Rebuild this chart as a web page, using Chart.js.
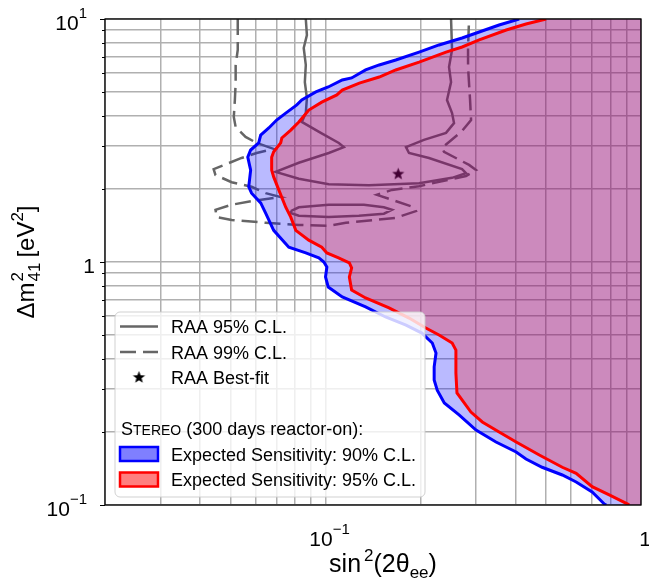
<!DOCTYPE html>
<html>
<head>
<meta charset="utf-8">
<title>STEREO expected sensitivity vs RAA</title>
<script src="https://cdn.jsdelivr.net/npm/chart.js@4.4.1/dist/chart.umd.min.js"></script>
<style>
  html, body { margin: 0; padding: 0; background: #fff; }
  #wrap { width: 649px; height: 580px; }
</style>
</head>
<body>
<div id="wrap"><canvas id="chart" width="649" height="580"></canvas></div>
<script>
// sin^2(2theta_ee) on x, dm^2_41 on y, both log
const X_MIN = 0.02, X_MAX = 1;
const Y_MIN = 0.1, Y_MAX = 10;

const xGridLines = [0.02, 0.03, 0.04, 0.05, 0.06, 0.07, 0.08, 0.09, 0.1, 0.2, 0.3, 0.4, 0.5, 0.6, 0.7, 0.8, 0.9, 1];
const yGridLines = [0.1, 0.2, 0.3, 0.4, 0.5, 0.6, 0.7, 0.8, 0.9, 1, 2, 3, 4, 5, 6, 7, 8, 9, 10];
// [value, base, superscript]
const xTickLabels = [[0.1, '10', '\u22121'], [1, '1', '']];
const yTickLabels = [[10, '10', '1'], [1, '1', ''], [0.1, '10', '\u22121']];

// STEREO expected sensitivity 90% C.L., [sin2, dm2], top edge -> bottom edge
const sens90 = [
  [0.411, 10], [0.355, 9.45], [0.307, 8.84], [0.271, 8.35], [0.229, 7.82], [0.198, 7.31],
  [0.167, 6.78], [0.148, 6.47], [0.134, 6.17], [0.121, 5.72], [0.113, 5.61], [0.102, 5.25],
  [0.0932, 5.01], [0.0841, 4.64], [0.0811, 4.43], [0.0748, 4.10], [0.0700, 3.84], [0.0661, 3.56],
  [0.0623, 3.33], [0.0614, 3.09], [0.0579, 2.89], [0.0567, 2.70], [0.0579, 2.39], [0.0571, 2.04],
  [0.0583, 1.92], [0.0623, 1.75], [0.0646, 1.59], [0.0685, 1.35], [0.0765, 1.15], [0.0866, 1.09],
  [0.0952, 1.04], [0.0988, 1.00], [0.101, 0.953], [0.100, 0.868], [0.102, 0.789], [0.113, 0.718],
  [0.134, 0.653], [0.155, 0.594], [0.180, 0.550], [0.202, 0.510], [0.218, 0.464], [0.224, 0.422],
  [0.221, 0.370], [0.221, 0.327], [0.226, 0.297], [0.238, 0.263], [0.265, 0.235], [0.300, 0.2035],
  [0.347, 0.1817], [0.402, 0.1652], [0.432, 0.1546], [0.486, 0.143], [0.563, 0.1329], [0.623, 0.1244],
  [0.700, 0.1131], [0.765, 0.101], [0.776, 0.1]
];

// STEREO expected sensitivity 95% C.L.
const sens95 = [
  [0.5005, 10], [0.432, 9.54], [0.374, 9.01], [0.307, 8.20], [0.271, 7.67], [0.241, 7.31],
  [0.198, 6.65], [0.167, 6.17], [0.148, 5.77], [0.128, 5.45], [0.113, 5.10], [0.1086, 4.87],
  [0.0973, 4.55], [0.0885, 4.22], [0.0823, 3.77], [0.0776, 3.49], [0.0727, 3.24], [0.0721, 3.09],
  [0.0685, 2.84], [0.0675, 2.70], [0.0675, 2.39], [0.0685, 2.24], [0.0711, 1.98], [0.0748, 1.68],
  [0.0776, 1.53], [0.0805, 1.35], [0.0885, 1.23], [0.0973, 1.15], [0.101, 1.09], [0.110, 1.04],
  [0.119, 0.991], [0.121, 0.945], [0.119, 0.868], [0.121, 0.767], [0.134, 0.711], [0.159, 0.647],
  [0.184, 0.588], [0.208, 0.535], [0.229, 0.501], [0.252, 0.464], [0.259, 0.434], [0.259, 0.349],
  [0.261, 0.289], [0.289, 0.2413], [0.314, 0.2196], [0.355, 0.1997], [0.402, 0.1817], [0.476, 0.1606],
  [0.563, 0.143], [0.623, 0.135], [0.700, 0.119], [0.793, 0.110], [0.905, 0.101], [0.918, 0.1]
];

// RAA allowed region, 95% C.L. (solid)
const raa95 = [
  [0.0866, 10], [0.0873, 8.59], [0.0853, 7.60], [0.0866, 6.47], [0.0860, 5.50], [0.0873, 4.73],
  [0.0866, 4.10], [0.0841, 3.77], [0.0966, 3.40], [0.1102, 3.09], [0.1143, 2.97], [0.1024, 2.81],
  [0.0823, 2.56], [0.0695, 2.35], [0.0823, 2.20], [0.1024, 2.09], [0.1372, 2.07], [0.1978, 2.11],
  [0.2518, 2.22], [0.2789, 2.32], [0.2709, 2.41], [0.2128, 2.68], [0.1839, 2.81], [0.1799, 2.97],
  [0.2051, 3.18], [0.2410, 3.40], [0.2555, 3.73], [0.2518, 4.10], [0.2427, 4.64], [0.2500, 5.50],
  [0.2463, 6.35], [0.2518, 7.46], [0.2500, 10]
];
const raa95Island = [
  [0.0776, 1.62], [0.0823, 1.68], [0.1024, 1.72], [0.1323, 1.72], [0.1531, 1.68], [0.1624, 1.64],
  [0.1531, 1.58], [0.1276, 1.55], [0.1024, 1.53], [0.0823, 1.55], [0.0776, 1.59], [0.0776, 1.62]
];

// RAA allowed region, 99% C.L. (dashed)
const raa99 = [
  [0.0527, 10], [0.0527, 8.59], [0.0527, 7.46], [0.0519, 6.47], [0.0519, 5.45], [0.0516, 4.64],
  [0.0512, 3.95], [0.0519, 3.59], [0.0558, 3.27], [0.0605, 3.09], [0.0685, 2.92], [0.0605, 2.81],
  [0.0542, 2.68], [0.0442, 2.41], [0.0448, 2.28], [0.0504, 2.13], [0.0583, 2.04], [0.0646, 1.92],
  [0.0721, 1.85], [0.0583, 1.78], [0.0504, 1.72], [0.0448, 1.64], [0.0452, 1.53], [0.0504, 1.49],
  [0.0646, 1.45], [0.0823, 1.42], [0.1024, 1.41], [0.1160, 1.45], [0.1672, 1.52], [0.1935, 1.62],
  [0.1907, 1.68], [0.1589, 1.82], [0.1455, 1.89], [0.1624, 1.98], [0.1978, 2.05], [0.2789, 2.26],
  [0.3001, 2.39], [0.2851, 2.51], [0.2375, 2.84], [0.2340, 2.95], [0.2709, 3.46], [0.2893, 3.84],
  [0.2872, 4.64], [0.2830, 6.35], [0.2830, 7.60], [0.2851, 10]
];

const raaBest = [[0.17, 2.3]];

const FONT = '"Liberation Sans", Arial, Helvetica, sans-serif';
const GRID = '#b0b0b0';
const GREY = '#666666';
const DASH = [16, 7];
const BLUE_FILL = 'rgba(0,0,255,0.27)';
const RED_FILL = 'rgba(255,0,0,0.26)';

const pts = a => a.map(([x, y]) => ({x, y}));
// region right of a sensitivity curve, closed along the right edge of the plot
const rightOf = a => pts(a).concat([{x: X_MAX, y: Y_MIN}, {x: X_MAX, y: Y_MAX}]);

function makeStar(r, color) {
  const c = document.createElement('canvas');
  c.width = c.height = Math.ceil(r * 2 + 2);
  const g = c.getContext('2d');
  const cx = c.width / 2, cy = c.height / 2;
  g.beginPath();
  for (let i = 0; i < 10; i++) {
    const rr = i % 2 ? r * 0.42 : r;
    const a = -Math.PI / 2 + i * Math.PI / 5;
    g.lineTo(cx + rr * Math.cos(a), cy + rr * Math.sin(a));
  }
  g.closePath();
  g.fillStyle = color;
  g.fill();
  return c;
}
const starImg = makeStar(6.5, '#000');

function font(px) { return px + 'px ' + FONT; }

// text made of runs with sup/subscripts
function drawRuns(ctx, runs, x, y, align) {
  let pos = 0, prevStart = 0, prevW = 0;
  const items = [];
  runs.forEach(r => {
    ctx.font = font(r.size);
    const w = ctx.measureText(r.text).width;
    if (r.stack) {
      items.push({r, x: prevStart});
      prevW = Math.max(prevW, w);
      pos = prevStart + prevW;
    } else {
      items.push({r, x: pos});
      prevStart = pos; prevW = w;
      pos += w;
    }
    pos += r.gap || 0;
  });
  const start = align === 'center' ? x - pos / 2 : align === 'right' ? x - pos : x;
  ctx.textBaseline = 'alphabetic';
  ctx.textAlign = 'left';
  items.forEach(it => {
    ctx.font = font(it.r.size);
    ctx.fillText(it.r.text, start + it.x, y + (it.r.dy || 0));
  });
}

const decorations = {
  id: 'decorations',
  afterDraw(chart) {
    const ctx = chart.ctx;
    const a = chart.chartArea;
    const xs = chart.scales.x, ys = chart.scales.y;
    ctx.save();

    // frame and left ticks
    ctx.strokeStyle = '#000';
    ctx.lineWidth = 1.3;
    ctx.strokeRect(a.left, a.top, a.right - a.left, a.bottom - a.top);
    ctx.lineWidth = 1;
    yGridLines.forEach(v => {
      const py = Math.round(ys.getPixelForValue(v)) + 0.5;
      const major = [0.1, 1, 10].includes(v);
      ctx.beginPath();
      ctx.moveTo(a.left - (major ? 5 : 3), py);
      ctx.lineTo(a.left, py);
      ctx.stroke();
    });

    // tick labels
    ctx.fillStyle = '#000';
    yTickLabels.forEach(([v, base, sup]) => {
      const py = ys.getPixelForValue(v);
      const runs = [{text: base, size: 21}];
      if (sup) runs.push({text: sup, size: 15, dy: -12});
      drawRuns(ctx, runs, a.left - (sup ? 18 : 10), py + 11, 'right');
    });
    xTickLabels.forEach(([v, base, sup]) => {
      const px = xs.getPixelForValue(v);
      const runs = [{text: base, size: 21}];
      if (sup) runs.push({text: sup, size: 15, dy: -12});
      drawRuns(ctx, runs, px + 4, 546, 'center');
    });

    // axis titles
    drawRuns(ctx, [
      {text: 'sin', size: 25, gap: 3},
      {text: '2', size: 17, dy: -11},
      {text: '(2\u03b8', size: 25},
      {text: 'ee', size: 17, dy: 6},
      {text: ')', size: 25}
    ], 383, 572, 'center');
    ctx.save();
    ctx.translate(34, (a.top + a.bottom) / 2);
    ctx.rotate(-Math.PI / 2);
    drawRuns(ctx, [
      {text: '\u0394m', size: 24, gap: 1},
      {text: '2', size: 17, dy: -11},
      {text: '41', size: 17, dy: 6, stack: true, gap: 5},
      {text: '[eV', size: 24},
      {text: '2', size: 17, dy: -11},
      {text: ']', size: 24}
    ], 0, 0, 'center');
    ctx.restore();

    // legend
    const L = {x: 115, y: 312, w: 310, h: 185};
    ctx.beginPath();
    ctx.roundRect(L.x, L.y, L.w, L.h, 5);
    ctx.fillStyle = 'rgba(255,255,255,0.8)';
    ctx.fill();
    ctx.strokeStyle = 'rgba(204,204,204,0.9)';
    ctx.lineWidth = 1;
    ctx.stroke();

    const hx0 = 120, hx1 = 158, tx = 171;
    ctx.strokeStyle = GREY;
    ctx.lineWidth = 2.5;
    ctx.beginPath(); ctx.moveTo(hx0, 326.5); ctx.lineTo(hx1, 326.5); ctx.stroke();
    ctx.setLineDash(DASH);
    ctx.beginPath(); ctx.moveTo(hx0, 352); ctx.lineTo(hx1, 352); ctx.stroke();
    ctx.setLineDash([]);
    ctx.drawImage(starImg, 139 - starImg.width / 2, 377.5 - starImg.height / 2);

    [[447, BLUE_FILL, '#0000ff'], [472.5, RED_FILL, '#ff0000']].forEach(([top, fill, edge]) => {
      ctx.fillStyle = '#fff';
      ctx.fillRect(hx0, top, hx1 - hx0, 14);
      ctx.fillStyle = fill.replace(/0\.2\d+\)/, '0.5)');
      ctx.fillRect(hx0, top, hx1 - hx0, 14);
      ctx.strokeStyle = edge;
      ctx.lineWidth = 2.5;
      ctx.strokeRect(hx0, top, hx1 - hx0, 14);
    });

    ctx.fillStyle = '#000';
    drawRuns(ctx, [{text: 'RAA 95% C.L.', size: 18}], tx, 333, 'left');
    drawRuns(ctx, [{text: 'RAA 99% C.L.', size: 18}], tx, 358.5, 'left');
    drawRuns(ctx, [{text: 'RAA Best-fit', size: 18}], tx, 384, 'left');
    drawRuns(ctx, [
      {text: 'S', size: 18},
      {text: 'TEREO', size: 14},
      {text: ' (300 days reactor-on):', size: 18}
    ], 121, 435, 'left');
    drawRuns(ctx, [{text: 'Expected Sensitivity: 90% C.L.', size: 18}], tx, 460.5, 'left');
    drawRuns(ctx, [{text: 'Expected Sensitivity: 95% C.L.', size: 18}], tx, 486, 'left');

    ctx.restore();
  }
};

const lineBase = {showLine: true, pointRadius: 0, pointHoverRadius: 0, tension: 0, clip: 0, fill: false};

new Chart(document.getElementById('chart'), {
  type: 'line',
  data: {
    datasets: [
      {...lineBase, label: 'Expected Sensitivity: 90% C.L.', data: pts(sens90), borderColor: '#0000ff', borderWidth: 3, order: 0},
      {...lineBase, label: 'Expected Sensitivity: 95% C.L.', data: pts(sens95), borderColor: '#ff0000', borderWidth: 3, order: 1},
      {...lineBase, label: '95% region', data: rightOf(sens95), borderColor: 'rgba(0,0,0,0)', borderWidth: 0, backgroundColor: RED_FILL, fill: 'shape', order: 2},
      {...lineBase, label: '90% region', data: rightOf(sens90), borderColor: 'rgba(0,0,0,0)', borderWidth: 0, backgroundColor: BLUE_FILL, fill: 'shape', order: 3},
      {label: 'RAA Best-fit', data: pts(raaBest), showLine: false, pointStyle: starImg, pointRadius: 7, pointHoverRadius: 7, clip: 0, order: 4},
      {...lineBase, label: 'RAA 95% C.L.', data: pts(raa95), borderColor: GREY, borderWidth: 2.5, order: 5},
      {...lineBase, label: 'RAA 95% C.L. island', data: pts(raa95Island), borderColor: GREY, borderWidth: 2.5, order: 6},
      {...lineBase, label: 'RAA 99% C.L.', data: pts(raa99), borderColor: GREY, borderWidth: 2.5, borderDash: DASH, order: 7}
    ]
  },
  options: {
    responsive: false,
    animation: false,
    events: [],
    layout: {padding: {left: 105, top: 19, right: 7, bottom: 75}},
    plugins: {legend: {display: false}, tooltip: {enabled: false}},
    scales: {
      x: {
        type: 'logarithmic', min: X_MIN, max: X_MAX,
        afterBuildTicks: s => { s.ticks = xGridLines.map(v => ({value: v})); },
        ticks: {display: false, autoSkip: false},
        grid: {color: GRID, lineWidth: 1.5, drawTicks: false},
        border: {display: false}
      },
      y: {
        type: 'logarithmic', min: Y_MIN, max: Y_MAX,
        afterBuildTicks: s => { s.ticks = yGridLines.map(v => ({value: v})); },
        ticks: {display: false, autoSkip: false},
        grid: {color: GRID, lineWidth: 1.5, drawTicks: false},
        border: {display: false}
      }
    }
  },
  plugins: [decorations]
});
</script>
</body>
</html>
